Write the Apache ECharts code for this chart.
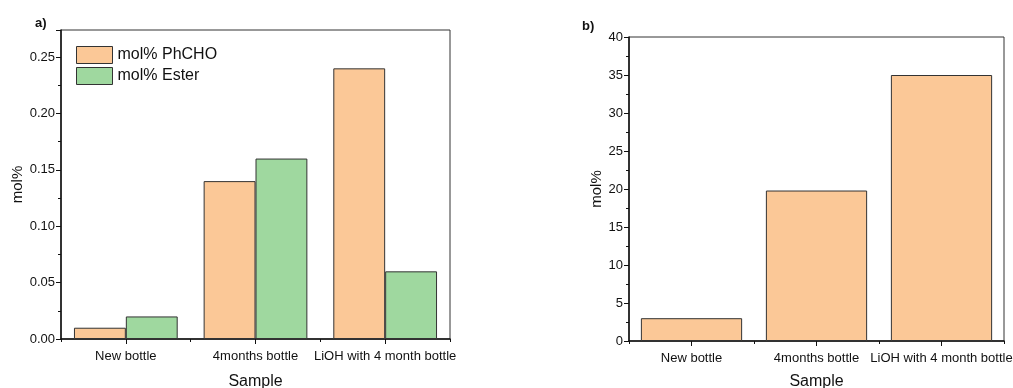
<!DOCTYPE html>
<html>
<head>
<meta charset="utf-8">
<script src="https://cdn.jsdelivr.net/npm/echarts@6/dist/echarts.min.js"></script>
<style>html,body{margin:0;padding:0;background:#fff}#c{width:1013px;height:388px}</style>
</head>
<body>
<div id="c"></div>
<script>
var categories = ['New bottle', '4months bottle', 'LiOH with 4 month bottle'];
var phchoA = [0.01, 0.14, 0.24];
var esterA = [0.02, 0.16, 0.06];
var phchoB = [3, 19.8, 35];
var seriesNames = ['mol% PhCHO', 'mol% Ester'];

var ORANGE = '#FBC897';
var GREEN = '#9FD89F';
var EDGE = '#333333';
var FONT = 'Liberation Sans, Arial, sans-serif';

var chart = echarts.init(document.getElementById('c'));

function catAxis(grid, showLabel, ticksCenter, nameGap) {
  return {
    type: 'category', gridIndex: grid, data: categories, position: 'bottom',
    boundaryGap: true,
    name: showLabel ? 'Sample' : '', nameLocation: 'middle', nameGap: nameGap,
    nameTextStyle: {fontFamily: FONT, fontSize: 16, color: '#111'},
    axisLine: {show: showLabel, lineStyle: {color: '#111', width: 1.5}},
    axisTick: {show: true, inside: false, alignWithLabel: ticksCenter, length: ticksCenter ? 5 : 3, lineStyle: {color: '#111', width: 1}},
    axisLabel: {show: showLabel, margin: 11, fontFamily: FONT, fontSize: 13, color: '#111', interval: 0},
    splitLine: {show: false}
  };
}

function valAxis(grid, max, interval, decimals, nameGap, showMax) {
  return {
    type: 'value', gridIndex: grid, min: 0, max: max, interval: interval,
    name: 'mol%', nameLocation: 'middle', nameGap: nameGap, nameRotate: 90,
    nameTextStyle: {fontFamily: FONT, fontSize: 15, color: '#111'},
    axisLine: {show: true, lineStyle: {color: '#111', width: 1.5}},
    axisTick: {show: true, inside: false, length: 5, lineStyle: {color: '#111', width: 1}},
    minorTick: {show: true, splitNumber: 2, length: 3, lineStyle: {color: '#111', width: 1}},
    axisLabel: {
      margin: 6, fontFamily: FONT, fontSize: 13, color: '#111',
      showMaxLabel: showMax,
      formatter: function (v) {
        var r = Math.round(v / interval);
        if (Math.abs(r * interval - v) > interval * 1e-6) return '';
        return v.toFixed(decimals);
      }
    },
    splitLine: {show: false}
  };
}

var option = {
  animation: false,
  backgroundColor: '#fff',
  title: [
    {text: 'a)', left: 35, top: 17, padding: 0, textStyle: {fontFamily: FONT, fontSize: 13, fontWeight: 'bold', color: '#111'}},
    {text: 'b)', left: 582, top: 20, padding: 0, textStyle: {fontFamily: FONT, fontSize: 13, fontWeight: 'bold', color: '#111'}}
  ],
  legend: {
    data: seriesNames,
    orient: 'vertical', left: 76, top: 46,
    itemWidth: 36, itemHeight: 17, itemGap: 3,
    icon: 'rect',
    padding: 0,
    itemStyle: {borderColor: EDGE, borderWidth: 1},
    textStyle: {fontFamily: FONT, fontSize: 16, color: '#111'}
  },
  grid: [
    {left: 61, top: 30, width: 389, height: 309, show: true, borderColor: '#333', borderWidth: 1, containLabel: false, outerBoundsMode: 'none'},
    {left: 629, top: 37, width: 375, height: 304, show: true, borderColor: '#333', borderWidth: 1, containLabel: false, outerBoundsMode: 'none'}
  ],
  xAxis: [
    catAxis(0, true, true, 35),
    catAxis(0, false, false, 0),
    catAxis(1, true, true, 33),
    catAxis(1, false, false, 0)
  ],
  yAxis: [
    valAxis(0, 0.274, 0.05, 2, 32, false),
    valAxis(1, 40, 5, 0, 24, true)
  ],
  series: [
    {name: seriesNames[0], type: 'bar', xAxisIndex: 0, yAxisIndex: 0, data: phchoA,
     barGap: '0%', barCategoryGap: '20%',
     itemStyle: {color: ORANGE, borderColor: EDGE, borderWidth: 1}},
    {name: seriesNames[1], type: 'bar', xAxisIndex: 0, yAxisIndex: 0, data: esterA,
     barGap: '0%', barCategoryGap: '20%',
     itemStyle: {color: GREEN, borderColor: EDGE, borderWidth: 1}},
    {name: 'b', type: 'bar', xAxisIndex: 2, yAxisIndex: 1, data: phchoB,
     barCategoryGap: '19%',
     itemStyle: {color: ORANGE, borderColor: EDGE, borderWidth: 1}}
  ]
};
chart.setOption(option);
</script>
</body>
</html>
